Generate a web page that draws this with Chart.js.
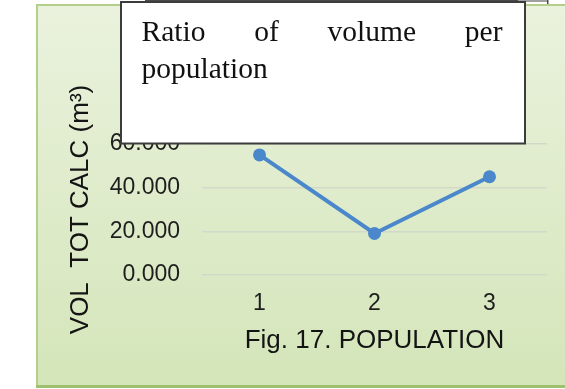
<!DOCTYPE html>
<html>
<head>
<meta charset="utf-8">
<script src="https://cdn.jsdelivr.net/npm/chart.js@4.4.1/dist/chart.umd.min.js"></script>
<style>
  html, body { margin: 0; padding: 0; background: #ffffff; }
  #wrap { width: 565px; height: 389px; position: relative; }
</style>
</head>
<body>
<div id="wrap"><canvas id="c" width="565" height="389"></canvas></div>
<script>
// Population categories and the volume ratio measured for each
const categories = ['1', '2', '3'];
const volumeRatio = [55, 19, 45];
const yTicks = [0, 20, 40, 60];
const boxLines = ['Ratio of volume per', 'population'];
const xTitle = 'Fig. 17. POPULATION';
const yTitle = 'VOL  TOT CALC (m\u00B3)';

const sans = '"Liberation Sans", Arial, sans-serif';
const serif = '"Liberation Serif", "Times New Roman", serif';

// Green gradient panel behind the chart, and the caption box on top of it
const panel = {
  id: 'panel',
  beforeDraw(chart) {
    const ctx = chart.ctx;
    ctx.save();
    const g = ctx.createLinearGradient(0, 5, 0, 387);
    g.addColorStop(0, '#eaf2dd');
    g.addColorStop(1, '#d4e5b9');
    ctx.fillStyle = g;
    ctx.fillRect(37, 5, 540, 382);
    ctx.strokeStyle = '#b3cf8a';
    ctx.lineWidth = 2;
    ctx.beginPath();
    ctx.moveTo(37, 387);
    ctx.lineTo(37, 5);
    ctx.lineTo(566, 5);
    ctx.stroke();
    ctx.strokeStyle = '#9fc06e';
    ctx.lineWidth = 3;
    ctx.beginPath();
    ctx.moveTo(36, 386.5);
    ctx.lineTo(566, 386.5);
    ctx.stroke();
    ctx.restore();
  },
  afterDraw(chart) {
    const ctx = chart.ctx;
    ctx.save();
    // edge of the frame above
    ctx.fillStyle = '#4a4a4a';
    ctx.fillRect(145, 0, 373, 2);
    ctx.fillStyle = '#a0a0a0';
    ctx.fillRect(518, 0, 30, 2);
    ctx.fillStyle = '#4a4a4a';
    ctx.fillRect(547, 0, 1.5, 4);

    // caption box
    const bx = 121, by = 2, bw = 404, bh = 141.5;
    ctx.fillStyle = '#ffffff';
    ctx.fillRect(bx, by, bw, bh);
    ctx.strokeStyle = '#3c3c3c';
    ctx.lineWidth = 2;
    ctx.strokeRect(bx, by, bw, bh);

    ctx.fillStyle = '#111111';
    ctx.font = '29.5px ' + serif;
    ctx.textBaseline = 'alphabetic';
    ctx.textAlign = 'left';
    const left = 141.5, right = 502.5;
    // first line is justified edge to edge
    const words = boxLines[0].split(' ');
    const widths = words.map(w => ctx.measureText(w).width);
    const total = widths.reduce((a, b) => a + b, 0);
    const gap = (right - left - total) / (words.length - 1);
    let x = left;
    words.forEach((w, i) => {
      ctx.fillText(w, x, 41);
      x += widths[i] + gap;
    });
    ctx.fillText(boxLines[1], left, 78);
    ctx.restore();
  }
};

new Chart(document.getElementById('c'), {
  type: 'line',
  data: {
    labels: categories,
    datasets: [{
      data: volumeRatio,
      borderColor: '#4a87cb',
      backgroundColor: '#4a87cb',
      borderWidth: 4,
      pointRadius: 6.5,
      pointHoverRadius: 6.5,
      pointBorderWidth: 0,
      tension: 0,
      fill: false
    }]
  },
  options: {
    responsive: false,
    devicePixelRatio: 1,
    animation: false,
    layout: { padding: { left: 0, right: 18, top: 144, bottom: 0 } },
    plugins: { legend: { display: false }, tooltip: { enabled: false } },
    scales: {
      x: {
        type: 'category',
        offset: true,
        grid: { display: false, drawTicks: false },
        border: { display: false },
        ticks: {
          padding: 15,
          color: '#1e1e1e',
          font: { family: sans, size: 23 }
        },
        title: {
          display: true,
          text: xTitle,
          color: '#141414',
          font: { family: sans, size: 26 },
          padding: { top: 0, bottom: 33 }
        },
        afterFit(scale) { scale.height = 114; }
      },
      y: {
        min: yTicks[0],
        max: yTicks[yTicks.length - 1],
        afterBuildTicks(scale) { scale.ticks = yTicks.map(v => ({ value: v })); },
        grid: { color: '#d3d9ca', lineWidth: 1.5, drawTicks: false },
        border: { display: false },
        ticks: {
          padding: 22,
          color: '#1e1e1e',
          font: { family: sans, size: 23 },
          callback: v => Number(v).toFixed(3)
        },
        title: {
          display: true,
          text: yTitle,
          color: '#141414',
          font: { family: sans, size: 26 },
          padding: { top: 65, bottom: 0 }
        },
        afterFit(scale) { scale.width = 202; }
      }
    }
  },
  plugins: [panel]
});
</script>
</body>
</html>
